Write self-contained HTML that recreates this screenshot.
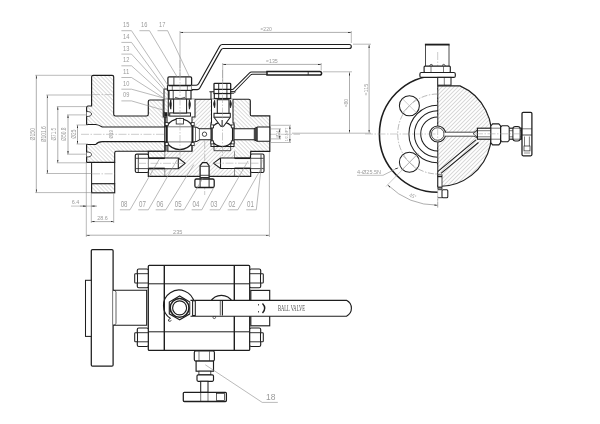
<!DOCTYPE html>
<html><head><meta charset="utf-8">
<style>
html,body{margin:0;padding:0;background:#fff;width:600px;height:424px;overflow:hidden}
svg{display:block;will-change:transform}
text{font-family:"Liberation Sans",sans-serif;fill:#9a9a9a}
</style></head><body>
<svg width="600" height="424" viewBox="0 0 600 424">
<defs>
<pattern id="hb" patternUnits="userSpaceOnUse" width="2.83" height="4" patternTransform="rotate(-45)">
<line x1="0" y1="-1" x2="0" y2="5" stroke="#808080" stroke-width="0.6"/></pattern>
<pattern id="hf" patternUnits="userSpaceOnUse" width="2.83" height="4" patternTransform="rotate(45)">
<line x1="0" y1="-1" x2="0" y2="5" stroke="#808080" stroke-width="0.6"/></pattern>
<marker id="ar" viewBox="0 0 10 4" refX="10" refY="2" markerWidth="3.2" markerHeight="1.4" orient="auto-start-reverse" markerUnits="userSpaceOnUse">
<path d="M0,0 L10,2 L0,4 z" fill="#222"/></marker>
</defs>
<line x1="81" y1="134.3" x2="300" y2="134.3" stroke="#999" stroke-width="0.5" stroke-dasharray="8,1.5,1.5,1.5"/>
<path d="M91.6,76.8 Q91.6,75.3 93.1,75.3 H112.2 Q113.7,75.3 113.7,76.8 V114.3 Q113.7,116 115.4,116 H146.6 Q148.3,116 148.3,114.3 V101.5 Q148.3,100 149.8,100 H165 V127 H102.3 Q98,124.5 95.7,124.5 H86.6 V107.5 Q86.6,106 88.1,106 H91.6 Z" fill="url(#hb)" stroke="#1e1e1e" stroke-width="1.15" />
<path d="M86.6,144.5 H95.7 Q98,141.6 102.3,141.6 H165 V151.2 H116.4 Q114.7,151.2 114.7,152.9 V162.3 H86.6 Z" fill="url(#hb)" stroke="#1e1e1e" stroke-width="1.15" />
<rect x="91.6" y="183.7" width="23.1" height="9.1" rx="0" fill="url(#hb)" stroke="#1e1e1e" stroke-width="1.15" />
<line x1="91.6" y1="162.3" x2="91.6" y2="183.7" stroke="#1e1e1e" stroke-width="1" />
<line x1="114.7" y1="162.3" x2="114.7" y2="183.7" stroke="#1e1e1e" stroke-width="1" />
<line x1="92" y1="94.6" x2="114.4" y2="94.6" stroke="#999" stroke-width="0.5" stroke-dasharray="8,1.5,1.5,1.5"/>
<line x1="92" y1="173.8" x2="114.4" y2="173.8" stroke="#999" stroke-width="0.5" stroke-dasharray="8,1.5,1.5,1.5"/>
<path d="M86.6,111.5 Q91.5,111.5 91.5,114 Q91.5,116.5 86.6,116.5" fill="#fff" stroke="#1e1e1e" stroke-width="0.8" />
<path d="M86.6,152 Q91.5,152 91.5,154.5 Q91.5,157 86.6,157" fill="#fff" stroke="#1e1e1e" stroke-width="0.8" />
<rect x="165" y="99.2" width="69.5" height="77.1" fill="url(#hf)"/>
<path d="M234.5,99.2 H250.3 V115.9 H269.8 V151.3 H250.7 V176.3 H234.5 Z" fill="url(#hb)"/>
<rect x="148.3" y="151.2" width="16.5" height="25.1" fill="url(#hb)"/>
<path d="M165,99.2 H248.8 Q250.3,99.2 250.3,100.7 V114.4 Q250.3,115.9 251.8,115.9 H269.8 V151.3 H250.7 V176.3 H148.3 V151.2 H165 Z" fill="none" stroke="#1e1e1e" stroke-width="1.15" />
<line x1="164.8" y1="151.2" x2="164.8" y2="176.3" stroke="#444" stroke-width="0.6" />
<line x1="234.5" y1="151.3" x2="234.5" y2="176.3" stroke="#444" stroke-width="0.6" />
<path d="M165,126.8 H192.7 Q197,126.8 199.5,128.8 H253.9 L257.4,127.1 H269.8 V141.3 H257.4 L253.9,139.8 H199.5 Q197,141.9 192.7,141.9 H165 Z" fill="#fff" stroke="#1e1e1e" stroke-width="1.03" />
<line x1="195.5" y1="127.1" x2="195.5" y2="141.6" stroke="#1e1e1e" stroke-width="0.6" />
<line x1="199.4" y1="128.8" x2="199.4" y2="139.8" stroke="#1e1e1e" stroke-width="0.6" />
<path d="M254.2,128.8 L257.4,127.4 V141 L254.2,139.8 Z" fill="#444" stroke="#1e1e1e" stroke-width="0.6" />
<path d="M163.2,99.2 V117 H167 V151.3 H192 V117 H195 V99.2" fill="#fff" stroke="#1e1e1e" stroke-width="1.03" />
<path d="M211.5,99.2 V123 H211 V146.5 H234 V123 H233 V99.2" fill="#fff" stroke="#1e1e1e" stroke-width="1.03" />
<path d="M166.7,126.2 A15.2,15.2 0 0 1 192.7,126.2 M166.7,142.2 A15.2,15.2 0 0 0 192.7,142.2" fill="none" stroke="#1e1e1e" stroke-width="1.26" />
<line x1="166.7" y1="126" x2="166.7" y2="142.4" stroke="#1e1e1e" stroke-width="1.5" />
<line x1="192.7" y1="126" x2="192.7" y2="142.4" stroke="#1e1e1e" stroke-width="1.5" />
<line x1="166.7" y1="126.8" x2="192.7" y2="126.8" stroke="#1e1e1e" stroke-width="0.6" />
<line x1="166.7" y1="141.9" x2="192.7" y2="141.9" stroke="#1e1e1e" stroke-width="0.6" />
<line x1="168" y1="144" x2="168" y2="151.3" stroke="#1e1e1e" stroke-width="0.8" />
<line x1="192" y1="144" x2="192" y2="151.3" stroke="#1e1e1e" stroke-width="0.8" />
<rect x="165.2" y="122.6" width="3" height="3" rx="0" fill="#fff" stroke="#1e1e1e" stroke-width="0.8" />
<rect x="191.2" y="122.6" width="3" height="3" rx="0" fill="#fff" stroke="#1e1e1e" stroke-width="0.8" />
<rect x="165.2" y="142.6" width="3" height="3" rx="0" fill="#fff" stroke="#1e1e1e" stroke-width="0.8" />
<rect x="191.2" y="142.6" width="3" height="3" rx="0" fill="#fff" stroke="#1e1e1e" stroke-width="0.8" />
<rect x="176.2" y="118.5" width="7.2" height="5.5" rx="0" fill="#fff" stroke="#1e1e1e" stroke-width="0.8" />
<rect x="169.7" y="112.9" width="20.8" height="3.2" rx="0" fill="#fff" stroke="#1e1e1e" stroke-width="1.03" />
<rect x="173.6" y="98" width="13" height="15" rx="0" fill="#fff" stroke="#1e1e1e" stroke-width="1.03" />
<path d="M170.8,99.8 Q168.6,104.5 170.8,109.2 Q171.9,104.5 170.8,99.8 Z M189.4,99.8 Q191.6,104.5 189.4,109.2 Q188.3,104.5 189.4,99.8 Z" fill="#1e1e1e" stroke="#1e1e1e" stroke-width="0.8" />
<rect x="164" y="89" width="4.3" height="27.3" fill="url(#hb)"/>
<path d="M163.6,89 H168.3 M164,89 V116.3 M168.3,89 V116.3" fill="none" stroke="#1e1e1e" stroke-width="1.03" />
<rect x="164.5" y="112.5" width="2.6" height="3.8" rx="0" fill="#1e1e1e" stroke="#1e1e1e" stroke-width="0.5" />
<rect x="169" y="90.4" width="22" height="8.6" rx="0" fill="#fff" stroke="#1e1e1e" stroke-width="1.15" />
<line x1="173.2" y1="90.6" x2="173.2" y2="98.8" stroke="#1e1e1e" stroke-width="0.8" />
<line x1="186" y1="90.6" x2="186" y2="98.8" stroke="#1e1e1e" stroke-width="0.8" />
<path d="M175,97.3 Q180,100.2 185,97.3" fill="none" stroke="#1e1e1e" stroke-width="0.7" />
<rect x="167.5" y="85.5" width="24.5" height="4.9" rx="0" fill="#fff" stroke="#1e1e1e" stroke-width="1.15" />
<line x1="172.3" y1="85.7" x2="172.3" y2="90.2" stroke="#1e1e1e" stroke-width="0.6" />
<line x1="187.4" y1="85.7" x2="187.4" y2="90.2" stroke="#1e1e1e" stroke-width="0.6" />
<rect x="167.9" y="76.9" width="23.7" height="8.6" rx="1.2" fill="#fff" stroke="#1e1e1e" stroke-width="1.26" />
<line x1="173.9" y1="77.3" x2="173.9" y2="85.3" stroke="#1e1e1e" stroke-width="0.8" />
<line x1="185.9" y1="77.3" x2="185.9" y2="85.3" stroke="#1e1e1e" stroke-width="0.8" />
<path d="M191.6,85.2 H196.3 Q197.8,85.2 198.6,83.8 L219.8,46 Q220.7,44.5 222.4,44.5 H349.3 A2,2 0 0 1 349.3,48.5 H223.3 Q221.9,48.5 221.1,49.9 L199.8,88 Q198.9,89.6 197.2,89.6 H192" fill="#fff" stroke="#1e1e1e" stroke-width="1.15" />
<path d="M212,128 A12.1,12.1 0 0 1 232.7,128 M212,140.7 A12.1,12.1 0 0 0 232.7,140.7" fill="none" stroke="#1e1e1e" stroke-width="1.26" />
<line x1="212" y1="127.8" x2="212" y2="140.9" stroke="#1e1e1e" stroke-width="1.5" />
<line x1="232.7" y1="127.8" x2="232.7" y2="140.9" stroke="#1e1e1e" stroke-width="1.5" />
<line x1="214" y1="144" x2="214" y2="150.7" stroke="#1e1e1e" stroke-width="0.8" />
<line x1="230.7" y1="144" x2="230.7" y2="150.7" stroke="#1e1e1e" stroke-width="0.8" />
<line x1="214" y1="150.7" x2="230.7" y2="150.7" stroke="#1e1e1e" stroke-width="0.8" />
<rect x="210.8" y="124.9" width="2.8" height="3" rx="0" fill="#fff" stroke="#1e1e1e" stroke-width="0.8" />
<rect x="231.3" y="124.9" width="2.8" height="3" rx="0" fill="#fff" stroke="#1e1e1e" stroke-width="0.8" />
<rect x="210.8" y="140.9" width="2.8" height="3" rx="0" fill="#fff" stroke="#1e1e1e" stroke-width="0.8" />
<rect x="231.3" y="140.9" width="2.8" height="3" rx="0" fill="#fff" stroke="#1e1e1e" stroke-width="0.8" />
<path d="M214,117.2 L220.8,126.3 H223.6 L230.3,117.2" fill="#fff" stroke="#1e1e1e" stroke-width="1.03" />
<line x1="222.2" y1="120" x2="222.2" y2="127" stroke="#1e1e1e" stroke-width="1.2" />
<rect x="214" y="113.3" width="16.3" height="3.9" rx="0" fill="#fff" stroke="#1e1e1e" stroke-width="1.03" />
<rect x="217.3" y="99.7" width="11.7" height="13.6" rx="0" fill="#fff" stroke="#1e1e1e" stroke-width="1.03" />
<path d="M214.6,100.3 Q212.6,104 214.6,107.8 Q215.6,104 214.6,100.3 Z M230.4,100.3 Q232.4,104 230.4,107.8 Q229.4,104 230.4,100.3 Z" fill="#1e1e1e" stroke="#1e1e1e" stroke-width="0.8" />
<rect x="214.3" y="93.5" width="16.4" height="5" rx="0" fill="#fff" stroke="#1e1e1e" stroke-width="1.15" />
<rect x="214" y="89.4" width="16.7" height="4.1" rx="0" fill="#fff" stroke="#1e1e1e" stroke-width="1.15" />
<rect x="214" y="83.3" width="16.7" height="6.1" rx="0.8" fill="#fff" stroke="#1e1e1e" stroke-width="1.26" />
<line x1="218.7" y1="83.6" x2="218.7" y2="89.2" stroke="#1e1e1e" stroke-width="0.9" />
<line x1="226.9" y1="83.6" x2="226.9" y2="89.2" stroke="#1e1e1e" stroke-width="0.9" />
<line x1="218.7" y1="89.6" x2="218.7" y2="93.3" stroke="#1e1e1e" stroke-width="0.9" />
<line x1="226.9" y1="89.6" x2="226.9" y2="93.3" stroke="#1e1e1e" stroke-width="0.9" />
<line x1="218.7" y1="93.7" x2="218.7" y2="98.3" stroke="#1e1e1e" stroke-width="0.9" />
<line x1="226.9" y1="93.7" x2="226.9" y2="98.3" stroke="#1e1e1e" stroke-width="0.9" />
<path d="M209.4,91.8 H214 M211,91.8 V99.3" fill="none" stroke="#1e1e1e" stroke-width="1.03" />
<path d="M230.7,89.5 H232.3 Q233.1,89.5 233.8,88.7 L249.6,72.8 Q250.4,72 251.5,72 H267 M267,74.2 H252.4 Q251.4,74.2 250.6,75 L235.1,91 Q234.3,91.8 233.3,91.8 H230.7" fill="none" stroke="#1e1e1e" stroke-width="1.03" />
<path d="M230.7,91.8 H235.5 L233.8,93.5 H230.7" fill="none" stroke="#1e1e1e" stroke-width="0.7" />
<path d="M267,71.4 H319.8 A1.8,1.8 0 0 1 319.8,75 H267 Z" fill="#fff" stroke="#1e1e1e" stroke-width="1.49" />
<line x1="308.2" y1="71.4" x2="308.2" y2="75" stroke="#1e1e1e" stroke-width="0.8" />
<line x1="180" y1="60" x2="180" y2="160" stroke="#999" stroke-width="0.5" stroke-dasharray="8,1.5,1.5,1.5"/>
<line x1="222.5" y1="70" x2="222.5" y2="160" stroke="#999" stroke-width="0.5" stroke-dasharray="8,1.5,1.5,1.5"/>
<circle cx="204.5" cy="134.2" r="2.2" fill="none" stroke="#1e1e1e" stroke-width="0.8" />
<line x1="204.7" y1="141" x2="204.7" y2="195" stroke="#999" stroke-width="0.5" stroke-dasharray="8,1.5,1.5,1.5"/>
<rect x="135.3" y="154.1" width="13.2" height="18.4" rx="1.5" fill="#fff" stroke="#1e1e1e" stroke-width="1.15" />
<line x1="138.3" y1="154.6" x2="138.3" y2="172" stroke="#1e1e1e" stroke-width="0.8" />
<line x1="135.8" y1="158.3" x2="148.3" y2="158.3" stroke="#1e1e1e" stroke-width="0.8" />
<line x1="135.8" y1="168.6" x2="148.3" y2="168.6" stroke="#1e1e1e" stroke-width="0.8" />
<path d="M148.5,158 H178.3 L185.2,163.3 L178.3,168.7 H148.5" fill="#fff" stroke="#1e1e1e" stroke-width="1.03" />
<line x1="178.3" y1="158" x2="178.3" y2="168.7" stroke="#1e1e1e" stroke-width="1.1" />
<line x1="148.5" y1="158.3" x2="164.8" y2="158.3" stroke="#1e1e1e" stroke-width="1.5" />
<line x1="148.5" y1="168.4" x2="164.8" y2="168.4" stroke="#1e1e1e" stroke-width="1.5" />
<line x1="138" y1="163.3" x2="186" y2="163.3" stroke="#999" stroke-width="0.5" stroke-dasharray="8,1.5,1.5,1.5"/>
<rect x="250.5" y="154" width="13.5" height="18.5" rx="1.5" fill="#fff" stroke="#1e1e1e" stroke-width="1.15" />
<line x1="261" y1="154.5" x2="261" y2="172" stroke="#1e1e1e" stroke-width="0.8" />
<line x1="250.5" y1="158.3" x2="263.5" y2="158.3" stroke="#1e1e1e" stroke-width="0.8" />
<line x1="250.5" y1="168.6" x2="263.5" y2="168.6" stroke="#1e1e1e" stroke-width="0.8" />
<path d="M250.5,158 H220.5 L213.5,163.2 L220.5,168.5 H250.5" fill="#fff" stroke="#1e1e1e" stroke-width="1.03" />
<line x1="220.5" y1="158" x2="220.5" y2="168.5" stroke="#1e1e1e" stroke-width="1.1" />
<line x1="234.5" y1="158.3" x2="250.5" y2="158.3" stroke="#1e1e1e" stroke-width="1.5" />
<line x1="234.5" y1="168.3" x2="250.5" y2="168.3" stroke="#1e1e1e" stroke-width="1.5" />
<line x1="213" y1="163.2" x2="263" y2="163.2" stroke="#999" stroke-width="0.5" stroke-dasharray="8,1.5,1.5,1.5"/>
<path d="M200.1,178.7 V165.6 L202.5,162.6 H206.7 L209.1,165.6 V178.7" fill="#fff" stroke="#1e1e1e" stroke-width="1.26" />
<line x1="200.3" y1="166.3" x2="208.9" y2="166.3" stroke="#1e1e1e" stroke-width="0.8" />
<line x1="200.3" y1="175.3" x2="208.9" y2="175.3" stroke="#1e1e1e" stroke-width="0.8" />
<line x1="200.3" y1="177.6" x2="208.9" y2="177.6" stroke="#1e1e1e" stroke-width="1.1" />
<rect x="194.9" y="179" width="19.3" height="8.5" rx="1.5" fill="#fff" stroke="#1e1e1e" stroke-width="1.26" />
<line x1="200.1" y1="179.3" x2="200.1" y2="187.2" stroke="#1e1e1e" stroke-width="0.9" />
<line x1="209.1" y1="179.3" x2="209.1" y2="187.2" stroke="#1e1e1e" stroke-width="0.9" />
<line x1="270.4" y1="125.3" x2="291" y2="125.3" stroke="#8c8c8c" stroke-width="0.6" />
<line x1="270.4" y1="142.5" x2="291" y2="142.5" stroke="#8c8c8c" stroke-width="0.6" />
<line x1="270.4" y1="128.9" x2="281" y2="128.9" stroke="#8c8c8c" stroke-width="0.6" />
<line x1="270.4" y1="138.9" x2="281" y2="138.9" stroke="#8c8c8c" stroke-width="0.6" />
<line x1="279.8" y1="128.9" x2="279.8" y2="138.9" stroke="#777" stroke-width="0.6" marker-start="url(#ar)" marker-end="url(#ar)"/>
<line x1="289.9" y1="126" x2="289.9" y2="142" stroke="#777" stroke-width="0.6" marker-start="url(#ar)" marker-end="url(#ar)"/>
<text x="279.2" y="134.2" font-size="4.3" text-anchor="middle" transform="rotate(-90 279.2 134.2)" textLength="7" lengthAdjust="spacingAndGlyphs" >Ø14</text>
<text x="288.3" y="134.5" font-size="4.3" text-anchor="middle" transform="rotate(-90 288.3 134.5)" textLength="13.6" lengthAdjust="spacingAndGlyphs" >1/2-NPT</text>
<line x1="36.3" y1="75.3" x2="36.3" y2="192.6" stroke="#777" stroke-width="0.6" marker-start="url(#ar)" marker-end="url(#ar)"/>
<line x1="35.3" y1="75.3" x2="91.6" y2="75.3" stroke="#8c8c8c" stroke-width="0.6" />
<line x1="35.3" y1="192.6" x2="91.6" y2="192.6" stroke="#8c8c8c" stroke-width="0.6" />
<text x="35.5" y="134.2" font-size="6.8" text-anchor="middle" transform="rotate(-90 35.5 134.2)" textLength="12.5" lengthAdjust="spacingAndGlyphs" >Ø150</text>
<line x1="47.3" y1="95" x2="47.3" y2="173.5" stroke="#777" stroke-width="0.6" marker-start="url(#ar)" marker-end="url(#ar)"/>
<line x1="46.3" y1="95" x2="91.6" y2="95" stroke="#8c8c8c" stroke-width="0.6" />
<line x1="46.3" y1="173.5" x2="91.6" y2="173.5" stroke="#8c8c8c" stroke-width="0.6" />
<text x="46.5" y="134.2" font-size="6.8" text-anchor="middle" transform="rotate(-90 46.5 134.2)" textLength="16" lengthAdjust="spacingAndGlyphs" >Ø101.6</text>
<line x1="57.8" y1="106.6" x2="57.8" y2="162.8" stroke="#777" stroke-width="0.6" marker-start="url(#ar)" marker-end="url(#ar)"/>
<line x1="56.8" y1="106.6" x2="86.6" y2="106.6" stroke="#8c8c8c" stroke-width="0.6" />
<line x1="56.8" y1="162.8" x2="86.6" y2="162.8" stroke="#8c8c8c" stroke-width="0.6" />
<text x="56" y="134.2" font-size="6.8" text-anchor="middle" transform="rotate(-90 56 134.2)" textLength="12.5" lengthAdjust="spacingAndGlyphs" >Ø71.5</text>
<line x1="68" y1="114.9" x2="68" y2="154.2" stroke="#777" stroke-width="0.6" marker-start="url(#ar)" marker-end="url(#ar)"/>
<line x1="67" y1="114.9" x2="86.6" y2="114.9" stroke="#8c8c8c" stroke-width="0.6" />
<line x1="67" y1="154.2" x2="86.6" y2="154.2" stroke="#8c8c8c" stroke-width="0.6" />
<text x="66.5" y="134.2" font-size="6.8" text-anchor="middle" transform="rotate(-90 66.5 134.2)" textLength="13.5" lengthAdjust="spacingAndGlyphs" >Ø50.8</text>
<line x1="77.5" y1="125" x2="77.5" y2="144" stroke="#777" stroke-width="0.6" marker-start="url(#ar)" marker-end="url(#ar)"/>
<line x1="76.5" y1="125" x2="88" y2="125" stroke="#8c8c8c" stroke-width="0.6" />
<line x1="76.5" y1="144" x2="88" y2="144" stroke="#8c8c8c" stroke-width="0.6" />
<text x="76" y="134.2" font-size="6.8" text-anchor="middle" transform="rotate(-90 76 134.2)" textLength="9" lengthAdjust="spacingAndGlyphs" >Ø25</text>
<text x="113" y="134.3" font-size="4.5" text-anchor="middle" transform="rotate(-90 113 134.3)" >Ø19</text>
<line x1="86.3" y1="162" x2="86.3" y2="237" stroke="#8c8c8c" stroke-width="0.6" />
<line x1="91.3" y1="193" x2="91.3" y2="223" stroke="#8c8c8c" stroke-width="0.6" />
<line x1="113.7" y1="193" x2="113.7" y2="223" stroke="#8c8c8c" stroke-width="0.6" />
<line x1="71" y1="206.1" x2="96.2" y2="206.1" stroke="#999" stroke-width="0.6" />
<line x1="80" y1="206.1" x2="86.3" y2="206.1" stroke="#777" stroke-width="0.6" marker-end="url(#ar)"/>
<line x1="97" y1="206.1" x2="91.3" y2="206.1" stroke="#777" stroke-width="0.6" marker-end="url(#ar)"/>
<text x="75.5" y="204.3" font-size="5.4" text-anchor="middle" textLength="7.6" lengthAdjust="spacingAndGlyphs" >6.4</text>
<line x1="91.3" y1="221.6" x2="113.7" y2="221.6" stroke="#777" stroke-width="0.6" marker-start="url(#ar)" marker-end="url(#ar)"/>
<text x="102.5" y="220.1" font-size="5.6" text-anchor="middle" textLength="10.5" lengthAdjust="spacingAndGlyphs" >28.6</text>
<line x1="86.3" y1="235.2" x2="269.2" y2="235.2" stroke="#777" stroke-width="0.6" marker-start="url(#ar)" marker-end="url(#ar)"/>
<line x1="269.4" y1="152" x2="269.4" y2="237" stroke="#8c8c8c" stroke-width="0.6" />
<text x="177.7" y="233.6" font-size="6" text-anchor="middle" textLength="9.4" lengthAdjust="spacingAndGlyphs" >235</text>
<line x1="180" y1="32.4" x2="351.3" y2="32.4" stroke="#777" stroke-width="0.6" marker-start="url(#ar)" marker-end="url(#ar)"/>
<line x1="180" y1="31" x2="180" y2="77" stroke="#8c8c8c" stroke-width="0.6" />
<line x1="351.3" y1="31" x2="351.3" y2="43" stroke="#8c8c8c" stroke-width="0.6" />
<text x="266.2" y="31.2" font-size="5.6" text-anchor="middle" textLength="11.2" lengthAdjust="spacingAndGlyphs" >≈220</text>
<line x1="222.7" y1="64.4" x2="321.2" y2="64.4" stroke="#777" stroke-width="0.6" marker-start="url(#ar)" marker-end="url(#ar)"/>
<line x1="222.7" y1="63" x2="222.7" y2="83.5" stroke="#8c8c8c" stroke-width="0.6" />
<line x1="321.2" y1="63" x2="321.2" y2="70.5" stroke="#8c8c8c" stroke-width="0.6" />
<text x="271.9" y="63" font-size="5.6" text-anchor="middle" textLength="11.7" lengthAdjust="spacingAndGlyphs" >≈135</text>
<line x1="353" y1="44.2" x2="371" y2="44.2" stroke="#8c8c8c" stroke-width="0.6" />
<line x1="323" y1="71.8" x2="352" y2="71.8" stroke="#8c8c8c" stroke-width="0.6" />
<line x1="292" y1="133.2" x2="371" y2="133.2" stroke="#8c8c8c" stroke-width="0.6" />
<line x1="349.5" y1="72.3" x2="349.5" y2="132.7" stroke="#777" stroke-width="0.6" marker-start="url(#ar)" marker-end="url(#ar)"/>
<line x1="369.1" y1="44.7" x2="369.1" y2="132.7" stroke="#777" stroke-width="0.6" marker-start="url(#ar)" marker-end="url(#ar)"/>
<text x="348.3" y="103.1" font-size="5.6" text-anchor="middle" transform="rotate(-90 348.3 103.1)" textLength="8.2" lengthAdjust="spacingAndGlyphs" >≈80</text>
<text x="368.4" y="89.5" font-size="5.6" text-anchor="middle" transform="rotate(-90 368.4 89.5)" textLength="11.8" lengthAdjust="spacingAndGlyphs" >≈115</text>
<text x="123.0" y="26.9" font-size="7" text-anchor="start" textLength="6.3" lengthAdjust="spacingAndGlyphs" >15</text>
<line x1="121.4" y1="30.7" x2="131.5" y2="30.7" stroke="#8c8c8c" stroke-width="0.6" />
<line x1="131.5" y1="30.7" x2="168.4" y2="86" stroke="#8c8c8c" stroke-width="0.6" />
<text x="141.0" y="26.9" font-size="7" text-anchor="start" textLength="6.3" lengthAdjust="spacingAndGlyphs" >16</text>
<line x1="139.4" y1="30.7" x2="149.5" y2="30.7" stroke="#8c8c8c" stroke-width="0.6" />
<line x1="149.5" y1="30.7" x2="177.2" y2="77" stroke="#8c8c8c" stroke-width="0.6" />
<text x="159.1" y="26.9" font-size="7" text-anchor="start" textLength="6.3" lengthAdjust="spacingAndGlyphs" >17</text>
<line x1="157.5" y1="30.7" x2="167.6" y2="30.7" stroke="#8c8c8c" stroke-width="0.6" />
<line x1="167.6" y1="30.7" x2="189" y2="76" stroke="#8c8c8c" stroke-width="0.6" />
<text x="123" y="38.9" font-size="7" text-anchor="start" textLength="6.3" lengthAdjust="spacingAndGlyphs" >14</text>
<line x1="121.4" y1="42.4" x2="131.5" y2="42.4" stroke="#8c8c8c" stroke-width="0.6" />
<line x1="131.5" y1="42.4" x2="165" y2="88" stroke="#8c8c8c" stroke-width="0.6" />
<text x="123" y="50.599999999999994" font-size="7" text-anchor="start" textLength="6.3" lengthAdjust="spacingAndGlyphs" >13</text>
<line x1="121.4" y1="54.099999999999994" x2="131.5" y2="54.099999999999994" stroke="#8c8c8c" stroke-width="0.6" />
<line x1="131.5" y1="54.099999999999994" x2="164.5" y2="90" stroke="#8c8c8c" stroke-width="0.6" />
<text x="123" y="62.3" font-size="7" text-anchor="start" textLength="6.3" lengthAdjust="spacingAndGlyphs" >12</text>
<line x1="121.4" y1="65.8" x2="131.5" y2="65.8" stroke="#8c8c8c" stroke-width="0.6" />
<line x1="131.5" y1="65.8" x2="164" y2="95" stroke="#8c8c8c" stroke-width="0.6" />
<text x="123" y="74.0" font-size="7" text-anchor="start" textLength="6.3" lengthAdjust="spacingAndGlyphs" >11</text>
<line x1="121.4" y1="77.5" x2="131.5" y2="77.5" stroke="#8c8c8c" stroke-width="0.6" />
<line x1="131.5" y1="77.5" x2="163.6" y2="98" stroke="#8c8c8c" stroke-width="0.6" />
<text x="123" y="85.69999999999999" font-size="7" text-anchor="start" textLength="6.3" lengthAdjust="spacingAndGlyphs" >10</text>
<line x1="121.4" y1="89.19999999999999" x2="131.5" y2="89.19999999999999" stroke="#8c8c8c" stroke-width="0.6" />
<line x1="131.5" y1="89.19999999999999" x2="163.6" y2="98" stroke="#8c8c8c" stroke-width="0.6" />
<text x="123" y="97.4" font-size="7" text-anchor="start" textLength="6.3" lengthAdjust="spacingAndGlyphs" >09</text>
<line x1="121.4" y1="100.9" x2="131.5" y2="100.9" stroke="#8c8c8c" stroke-width="0.6" />
<line x1="131.5" y1="100.9" x2="163.6" y2="110.2" stroke="#8c8c8c" stroke-width="0.6" />
<text x="120.7" y="206.8" font-size="8.2" text-anchor="start" textLength="6.8" lengthAdjust="spacingAndGlyphs" >08</text>
<line x1="119.9" y1="209.8" x2="130.0" y2="209.8" stroke="#8c8c8c" stroke-width="0.6" />
<line x1="130.0" y1="209.8" x2="159.5" y2="158.8" stroke="#8c8c8c" stroke-width="0.6" />
<text x="139" y="206.8" font-size="8.2" text-anchor="start" textLength="6.8" lengthAdjust="spacingAndGlyphs" >07</text>
<line x1="138.2" y1="209.8" x2="148.3" y2="209.8" stroke="#8c8c8c" stroke-width="0.6" />
<line x1="148.3" y1="209.8" x2="177" y2="160" stroke="#8c8c8c" stroke-width="0.6" />
<text x="156.5" y="206.8" font-size="8.2" text-anchor="start" textLength="6.8" lengthAdjust="spacingAndGlyphs" >06</text>
<line x1="155.7" y1="209.8" x2="165.8" y2="209.8" stroke="#8c8c8c" stroke-width="0.6" />
<line x1="165.8" y1="209.8" x2="193.8" y2="164.6" stroke="#8c8c8c" stroke-width="0.6" />
<text x="174.8" y="206.8" font-size="8.2" text-anchor="start" textLength="6.8" lengthAdjust="spacingAndGlyphs" >05</text>
<line x1="174.0" y1="209.8" x2="184.10000000000002" y2="209.8" stroke="#8c8c8c" stroke-width="0.6" />
<line x1="184.10000000000002" y1="209.8" x2="203" y2="178" stroke="#8c8c8c" stroke-width="0.6" />
<text x="192.5" y="206.8" font-size="8.2" text-anchor="start" textLength="6.8" lengthAdjust="spacingAndGlyphs" >04</text>
<line x1="191.7" y1="209.8" x2="201.8" y2="209.8" stroke="#8c8c8c" stroke-width="0.6" />
<line x1="201.8" y1="209.8" x2="213.5" y2="188" stroke="#8c8c8c" stroke-width="0.6" />
<text x="210.5" y="206.8" font-size="8.2" text-anchor="start" textLength="6.8" lengthAdjust="spacingAndGlyphs" >03</text>
<line x1="209.7" y1="209.8" x2="219.8" y2="209.8" stroke="#8c8c8c" stroke-width="0.6" />
<line x1="219.8" y1="209.8" x2="248" y2="161" stroke="#8c8c8c" stroke-width="0.6" />
<text x="228.5" y="206.8" font-size="8.2" text-anchor="start" textLength="6.8" lengthAdjust="spacingAndGlyphs" >02</text>
<line x1="227.7" y1="209.8" x2="237.8" y2="209.8" stroke="#8c8c8c" stroke-width="0.6" />
<line x1="237.8" y1="209.8" x2="262" y2="167" stroke="#8c8c8c" stroke-width="0.6" />
<text x="247" y="206.8" font-size="8.2" text-anchor="start" textLength="6.8" lengthAdjust="spacingAndGlyphs" >01</text>
<line x1="246.2" y1="209.8" x2="256.3" y2="209.8" stroke="#8c8c8c" stroke-width="0.6" />
<line x1="256.3" y1="209.8" x2="262" y2="160" stroke="#8c8c8c" stroke-width="0.6" />
<path d="M437.7,85.9 H460 A52.5,52.5 0 0 1 437.7,186.5 Z" fill="url(#hf)" stroke="#1e1e1e" stroke-width="1.15" />
<path d="M437.7,75.7 A58.3,58.3 0 0 0 437.7,192.3" fill="none" stroke="#1e1e1e" stroke-width="1.61" />
<path d="M437.7,94 A40,40 0 0 0 437.7,174" fill="none" stroke="#888" stroke-width="0.6" stroke-dasharray="6,1.5,1.5,1.5"/>
<circle cx="409.4" cy="105.7" r="10" fill="none" stroke="#1e1e1e" stroke-width="1.03" />
<line x1="402.4" y1="98.7" x2="416.4" y2="112.7" stroke="#999" stroke-width="0.5" />
<line x1="402.4" y1="112.7" x2="416.4" y2="98.7" stroke="#999" stroke-width="0.5" />
<circle cx="409.4" cy="162.3" r="10" fill="none" stroke="#1e1e1e" stroke-width="1.03" />
<line x1="402.4" y1="155.3" x2="416.4" y2="169.3" stroke="#999" stroke-width="0.5" />
<line x1="402.4" y1="169.3" x2="416.4" y2="155.3" stroke="#999" stroke-width="0.5" />
<path d="M437.7,105.2 A28.8,28.8 0 0 0 437.7,162.8" fill="none" stroke="#1e1e1e" stroke-width="1.03" />
<path d="M437.7,110.7 A23.3,23.3 0 0 0 437.7,157.3" fill="none" stroke="#1e1e1e" stroke-width="1.03" />
<path d="M437.7,117.0 A17,17 0 0 0 437.7,151.0" fill="none" stroke="#1e1e1e" stroke-width="1.03" />
<circle cx="437.7" cy="134.0" r="8" fill="#fff" stroke="#1e1e1e" stroke-width="1.15" />
<circle cx="437.7" cy="134.0" r="6.3" fill="none" stroke="#1e1e1e" stroke-width="0.8" />
<line x1="437.7" y1="52" x2="437.7" y2="208" stroke="#999" stroke-width="0.5" stroke-dasharray="8,1.5,1.5,1.5"/>
<line x1="365" y1="134.0" x2="437.7" y2="134.0" stroke="#999" stroke-width="0.5" stroke-dasharray="8,1.5,1.5,1.5"/>
<path d="M444.7,132.2 H474 L477.7,130 V138 L474,136.2 H444.7" fill="#fff" stroke="#1e1e1e" stroke-width="0.8" />
<path d="M477.4,130.2 L473.2,133.8 L477.4,137.2" fill="#fff" stroke="#1e1e1e" stroke-width="0.8" />
<rect x="477.4" y="128.2" width="14.6" height="11" rx="0" fill="#fff" stroke="#1e1e1e" stroke-width="1.15" />
<line x1="477.6" y1="130.7" x2="492" y2="130.7" stroke="#1e1e1e" stroke-width="0.6" />
<line x1="477.6" y1="136.8" x2="492" y2="136.8" stroke="#1e1e1e" stroke-width="0.6" />
<rect x="500.6" y="128.2" width="21" height="11" rx="0" fill="#fff" stroke="#1e1e1e" stroke-width="1.15" />
<line x1="500.6" y1="130.7" x2="521.5" y2="130.7" stroke="#1e1e1e" stroke-width="0.6" />
<line x1="500.6" y1="136.8" x2="521.5" y2="136.8" stroke="#1e1e1e" stroke-width="0.6" />
<path d="M500.6,127.2 L502,125.8 H507.8 L509.2,127.2 V140.3 L507.8,141.7 H502 L500.6,140.3 Z" fill="#fff" stroke="#1e1e1e" stroke-width="1.03" />
<path d="M490.8,126 L492.6,123.9 H498.8 L500.6,126 V142.7 L498.8,144.8 H492.6 L490.8,142.7 Z" fill="#fff" stroke="#1e1e1e" stroke-width="1.15" />
<line x1="490.8" y1="128.2" x2="500.6" y2="128.2" stroke="#1e1e1e" stroke-width="0.6" />
<line x1="490.8" y1="139.2" x2="500.6" y2="139.2" stroke="#1e1e1e" stroke-width="0.6" />
<rect x="512.9" y="126.4" width="7.3" height="14.7" rx="2.5" fill="#fff" stroke="#1e1e1e" stroke-width="1.03" />
<line x1="512.9" y1="128.2" x2="520.2" y2="128.2" stroke="#1e1e1e" stroke-width="0.6" />
<line x1="512.9" y1="139.2" x2="520.2" y2="139.2" stroke="#1e1e1e" stroke-width="0.6" />
<line x1="475" y1="133.8" x2="522" y2="133.8" stroke="#999" stroke-width="0.5" stroke-dasharray="8,1.5,1.5,1.5"/>
<rect x="522" y="112.3" width="9.9" height="43.5" rx="1.2" fill="#fff" stroke="#1e1e1e" stroke-width="1.26" />
<line x1="522" y1="128.8" x2="531.9" y2="128.8" stroke="#1e1e1e" stroke-width="0.6" />
<line x1="522" y1="135" x2="531.9" y2="135" stroke="#1e1e1e" stroke-width="0.8" />
<line x1="524.5" y1="136.5" x2="524.5" y2="146" stroke="#1e1e1e" stroke-width="0.6" />
<line x1="529.4" y1="136.5" x2="529.4" y2="146" stroke="#1e1e1e" stroke-width="0.6" />
<rect x="524" y="146" width="6" height="4.9" rx="0" fill="#fff" stroke="#1e1e1e" stroke-width="0.7" />
<line x1="524" y1="153" x2="530" y2="153" stroke="#1e1e1e" stroke-width="0.5" />
<path d="M475.9,139.9 L437.7,171.7 M478.5,142.5 L441,173.3" fill="none" stroke="#1e1e1e" stroke-width="1.03" />
<path d="M424.9,44.6 H449.6" fill="none" stroke="#1e1e1e" stroke-width="1.84" />
<path d="M425.5,44.6 V66.1 M449,44.6 V66.1" fill="none" stroke="#1e1e1e" stroke-width="0.8" />
<rect x="424.1" y="66.1" width="26.2" height="6.4" rx="1" fill="#fff" stroke="#1e1e1e" stroke-width="1.15" />
<line x1="431" y1="66.5" x2="431" y2="72.3" stroke="#1e1e1e" stroke-width="0.6" />
<line x1="443.5" y1="66.5" x2="443.5" y2="72.3" stroke="#1e1e1e" stroke-width="0.6" />
<rect x="419.9" y="72.5" width="35.4" height="4.9" rx="1.5" fill="#fff" stroke="#1e1e1e" stroke-width="1.15" />
<rect x="437.7" y="77.4" width="13.3" height="7.8" rx="0" fill="#fff" stroke="#1e1e1e" stroke-width="1.03" />
<line x1="444.3" y1="77.4" x2="444.3" y2="85.2" stroke="#1e1e1e" stroke-width="0.6" />
<path d="M429.5,65.5 Q431,63.2 433,65.5 M442,65.5 Q443.5,63.2 445.5,65.5" fill="none" stroke="#1e1e1e" stroke-width="0.8" />
<rect x="437.9" y="174.9" width="4.1" height="14" rx="0" fill="#fff" stroke="#1e1e1e" stroke-width="0.8" />
<line x1="438" y1="176.6" x2="442" y2="176.6" stroke="#1e1e1e" stroke-width="1.2" />
<line x1="438" y1="187.2" x2="442" y2="187.2" stroke="#1e1e1e" stroke-width="1.2" />
<rect x="442" y="189.7" width="5.8" height="8" rx="1" fill="#fff" stroke="#1e1e1e" stroke-width="1.03" />
<line x1="437.9" y1="189.7" x2="442" y2="189.7" stroke="#1e1e1e" stroke-width="0.8" />
<line x1="437.9" y1="197.7" x2="442" y2="197.7" stroke="#1e1e1e" stroke-width="0.8" />
<text x="357.1" y="173.5" font-size="5.6" text-anchor="start" textLength="24" lengthAdjust="spacingAndGlyphs" >4-Ø25.5N</text>
<line x1="357" y1="175.3" x2="383" y2="175.3" stroke="#999" stroke-width="0.6" />
<line x1="383" y1="175.3" x2="398.3" y2="167.7" stroke="#888" stroke-width="0.6" marker-end="url(#ar)"/>
<path d="M387.7,184.9 A71.2,71.2 0 0 0 437.7,205.2" fill="none" stroke="#777" stroke-width="0.6" marker-start="url(#ar)" marker-end="url(#ar)"/>
<line x1="418.7" y1="153.0" x2="386" y2="186.5" stroke="#999" stroke-width="0.5" />
<line x1="437.7" y1="196" x2="437.7" y2="207" stroke="#999" stroke-width="0.5" />
<text x="412" y="197.8" font-size="5.6" text-anchor="middle" transform="rotate(22.5 412 197.8)" textLength="7" lengthAdjust="spacingAndGlyphs" >45°</text>
<rect x="91.3" y="249.6" width="21.8" height="116.6" rx="1.2" fill="#fff" stroke="#1e1e1e" stroke-width="1.26" />
<rect x="85.5" y="280.3" width="5.8" height="56.1" rx="0" fill="#fff" stroke="#1e1e1e" stroke-width="1.03" />
<path d="M113.1,290.2 H146.7 V325.2 H113.1" fill="#fff" stroke="#1e1e1e" stroke-width="1.15" />
<path d="M113.1,290.2 Q116,290.2 116,292.2 V323.2 Q116,325.2 113.1,325.2" fill="none" stroke="#1e1e1e" stroke-width="0.7" />
<rect x="148.3" y="265.4" width="101.4" height="85" rx="1" fill="#fff" stroke="#1e1e1e" stroke-width="1.26" />
<line x1="164.3" y1="265.4" x2="164.3" y2="350.4" stroke="#1e1e1e" stroke-width="1.4" />
<line x1="234.3" y1="265.4" x2="234.3" y2="350.4" stroke="#1e1e1e" stroke-width="1.4" />
<line x1="148.3" y1="283.8" x2="249.7" y2="283.8" stroke="#1e1e1e" stroke-width="1" />
<line x1="148.3" y1="331.8" x2="249.7" y2="331.8" stroke="#1e1e1e" stroke-width="1" />
<rect x="137.29999999999998" y="269" width="11.000000000000023" height="18.69999999999999" rx="1.5" fill="#fff" stroke="#1e1e1e" stroke-width="1.15" />
<rect x="134.7" y="273.7" width="2.8" height="9.299999999999988" rx="0.8" fill="#fff" stroke="#1e1e1e" stroke-width="1.03" />
<line x1="137.29999999999998" y1="273.7" x2="148.3" y2="273.7" stroke="#1e1e1e" stroke-width="0.9" />
<line x1="137.29999999999998" y1="283.0" x2="148.3" y2="283.0" stroke="#1e1e1e" stroke-width="0.9" />
<rect x="137.29999999999998" y="328" width="11.000000000000023" height="18.5" rx="1.5" fill="#fff" stroke="#1e1e1e" stroke-width="1.15" />
<rect x="134.7" y="332.7" width="2.8" height="9.1" rx="0.8" fill="#fff" stroke="#1e1e1e" stroke-width="1.03" />
<line x1="137.29999999999998" y1="332.7" x2="148.3" y2="332.7" stroke="#1e1e1e" stroke-width="0.9" />
<line x1="137.29999999999998" y1="341.8" x2="148.3" y2="341.8" stroke="#1e1e1e" stroke-width="0.9" />
<rect x="249.7" y="269" width="11.000000000000023" height="18.69999999999999" rx="1.5" fill="#fff" stroke="#1e1e1e" stroke-width="1.15" />
<rect x="260.5" y="273.7" width="2.8" height="9.299999999999988" rx="0.8" fill="#fff" stroke="#1e1e1e" stroke-width="1.03" />
<line x1="249.7" y1="273.7" x2="260.7" y2="273.7" stroke="#1e1e1e" stroke-width="0.9" />
<line x1="249.7" y1="283.0" x2="260.7" y2="283.0" stroke="#1e1e1e" stroke-width="0.9" />
<rect x="249.7" y="328" width="11.000000000000023" height="18.5" rx="1.5" fill="#fff" stroke="#1e1e1e" stroke-width="1.15" />
<rect x="260.5" y="332.7" width="2.8" height="9.1" rx="0.8" fill="#fff" stroke="#1e1e1e" stroke-width="1.03" />
<line x1="249.7" y1="332.7" x2="260.7" y2="332.7" stroke="#1e1e1e" stroke-width="0.9" />
<line x1="249.7" y1="341.8" x2="260.7" y2="341.8" stroke="#1e1e1e" stroke-width="0.9" />
<rect x="250.8" y="290.4" width="18.9" height="35.4" rx="0" fill="#fff" stroke="#1e1e1e" stroke-width="1.15" />
<path d="M210.5,301.9 A12.4,12.4 0 0 1 232.3,301.9" fill="none" stroke="#1e1e1e" stroke-width="1.15" />
<circle cx="214.3" cy="317.3" r="1.3" fill="none" stroke="#1e1e1e" stroke-width="0.7" />
<path d="M170.5,318.5 A15.5,15.5 0 1 1 194.2,302.5" fill="none" stroke="#1e1e1e" stroke-width="1.15" />
<path d="M170.5,318.5 Q167.5,319.5 168.5,321 Q170,322 171.5,320.3" fill="none" stroke="#1e1e1e" stroke-width="0.8" />
<polygon points="179.60,319.80 169.29,313.85 169.29,301.95 179.60,296.00 189.91,301.95 189.91,313.85" fill="#fff" stroke="#1e1e1e" stroke-width="1.1"/>
<circle cx="179.6" cy="307.9" r="9.4" fill="none" stroke="#1e1e1e" stroke-width="1.61" />
<circle cx="179.6" cy="307.9" r="7" fill="none" stroke="#1e1e1e" stroke-width="1.15" />
<path d="M190.5,300.3 H346.5 Q351.4,303 351.4,308.2 Q351.4,313.4 346.5,316.2 H190.5" fill="#fff" stroke="#1e1e1e" stroke-width="1.15" />
<rect x="192.6" y="300.8" width="2.7" height="14.7" rx="0" fill="#fff" stroke="#1e1e1e" stroke-width="1.03" />
<line x1="220.3" y1="300.5" x2="220.3" y2="315.5" stroke="#1e1e1e" stroke-width="0.7" />
<line x1="222.4" y1="300.5" x2="222.4" y2="315.5" stroke="#1e1e1e" stroke-width="1.1" />
<path d="M262.5,303.5 Q267,308.2 262.5,313" fill="none" stroke="#1e1e1e" stroke-width="1.38" />
<line x1="258.5" y1="304" x2="258.5" y2="305.5" stroke="#1e1e1e" stroke-width="0.8" />
<line x1="258.5" y1="311" x2="258.5" y2="312.5" stroke="#1e1e1e" stroke-width="0.8" />
<text x="278" y="311" font-size="7.6" textLength="27" lengthAdjust="spacingAndGlyphs" style="font-family:'Liberation Serif',serif;fill:#444">BALL VALVE</text>
<rect x="194.3" y="351" width="20.1" height="10.1" rx="1.5" fill="#fff" stroke="#1e1e1e" stroke-width="1.15" />
<line x1="199" y1="351.3" x2="199" y2="360.8" stroke="#1e1e1e" stroke-width="0.6" />
<line x1="209.5" y1="351.3" x2="209.5" y2="360.8" stroke="#1e1e1e" stroke-width="0.6" />
<rect x="196.1" y="361.1" width="17.4" height="10.1" rx="0" fill="#fff" stroke="#1e1e1e" stroke-width="1.15" />
<rect x="198.9" y="371.2" width="11.9" height="3.7" rx="0" fill="#fff" stroke="#1e1e1e" stroke-width="0.8" />
<rect x="197" y="374.9" width="16.5" height="6.4" rx="1.2" fill="#fff" stroke="#1e1e1e" stroke-width="1.15" />
<rect x="200.7" y="381.3" width="7.3" height="11" rx="0" fill="#fff" stroke="#1e1e1e" stroke-width="1.03" />
<rect x="183.3" y="392.3" width="43.1" height="9.2" rx="1" fill="#fff" stroke="#1e1e1e" stroke-width="1.26" />
<line x1="200.7" y1="392.5" x2="200.7" y2="401.3" stroke="#1e1e1e" stroke-width="0.6" />
<line x1="208" y1="392.5" x2="208" y2="401.3" stroke="#1e1e1e" stroke-width="0.6" />
<rect x="216.5" y="393.5" width="8" height="7" rx="0" fill="#fff" stroke="#1e1e1e" stroke-width="0.7" />
<text x="266" y="399.6" font-size="8.5" text-anchor="start" >18</text>
<line x1="262.2" y1="402.4" x2="277.8" y2="402.4" stroke="#8c8c8c" stroke-width="0.6" />
<line x1="262.2" y1="402.4" x2="205.3" y2="364.8" stroke="#8c8c8c" stroke-width="0.6" />
</svg>
</body></html>
